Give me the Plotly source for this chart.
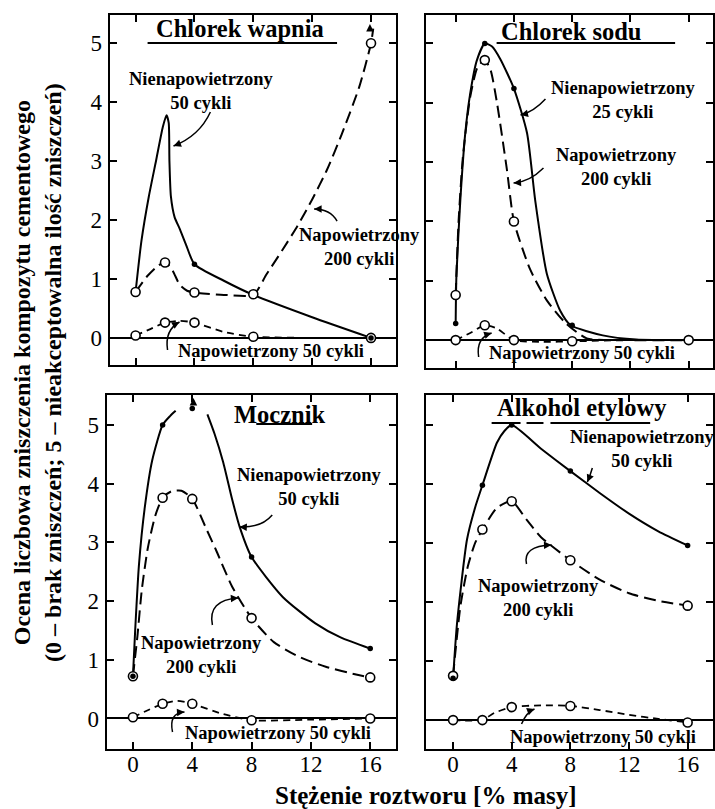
import math
import plotly.graph_objects as go

W, H = 715, 809
FONT = "Liberation Serif, Times New Roman, Times, serif"

# ---------------- data ----------------
x_ticks = [0, 4, 8, 12, 16]
y_ticks = [0, 1, 2, 3, 4, 5]

# Chlorek wapnia
wap_nien50_cx = [0, 0.4, 0.9, 1.4, 1.85, 2.1, 2.25, 2.3, 2.4, 2.65, 3.0, 3.43, 4, 6, 8, 12, 16]
wap_nien50_cy = [0.78, 1.65, 2.4, 3.02, 3.58, 3.78, 3.65, 3.0, 2.4, 2.05, 1.85, 1.58, 1.25, 0.97, 0.73, 0.35, 0.0]
wap_nien50_px = [4, 16]
wap_nien50_py = [1.25, 0.0]

wap_nap200_cx = [0, 0.8, 1.5, 2, 2.5, 3, 3.5, 4, 6, 8, 8.9, 10, 11, 12, 13, 14, 15.2, 16, 16.15]
wap_nap200_cy = [0.78, 1.05, 1.22, 1.28, 1.15, 0.9, 0.8, 0.77, 0.73, 0.73, 1.08, 1.5, 1.9, 2.35, 2.85, 3.45, 4.26, 5.0, 5.25]
wap_nap200_px = [0, 2, 4, 8, 16]
wap_nap200_py = [0.78, 1.28, 0.77, 0.74, 5.0]

wap_nap50_cx = [0, 1, 2, 3, 4, 6, 8, 12, 16]
wap_nap50_cy = [0.04, 0.15, 0.26, 0.29, 0.26, 0.1, 0.02, 0.0, 0.0]
wap_nap50_px = [0, 2, 4, 8, 16]
wap_nap50_py = [0.04, 0.26, 0.26, 0.02, 0.0]

# Chlorek sodu
sod_nien25_cx = [0, 0.05, 0.32, 0.66, 1.0, 1.46, 2, 2.5, 3.06, 4, 4.9, 5.46, 6.26, 7.17, 7.9, 10.1, 12.4, 16]
sod_nien25_cy = [0.28, 1.07, 2.36, 3.49, 4.16, 4.72, 5.0, 4.95, 4.74, 4.24, 3.49, 2.36, 1.12, 0.5, 0.25, 0.08, 0.01, 0.0]
sod_nien25_px = [0, 2, 4, 8]
sod_nien25_py = [0.28, 5.0, 4.24, 0.25]

sod_nap200_cx = [0, 0.2, 0.5, 1.0, 1.5, 2, 2.4, 2.83, 3.51, 4, 5.1, 6.26, 7.5, 9.0, 12, 16]
sod_nap200_cy = [0.76, 2.0, 3.1, 4.1, 4.6, 4.72, 4.55, 4.01, 2.89, 2.0, 1.2, 0.67, 0.3, 0.03, 0.0, 0.0]
sod_nap200_px = [0, 2, 4]
sod_nap200_py = [0.76, 4.72, 2.0]

sod_nap50_cx = [0, 1, 2, 2.8, 4, 6, 8, 12, 16]
sod_nap50_cy = [0.0, 0.12, 0.25, 0.2, 0.0, -0.03, -0.02, 0.0, 0.0]
sod_nap50_px = [0, 2, 4, 8, 16]
sod_nap50_py = [0.0, 0.25, 0.0, -0.02, 0.0]

# Mocznik
moc_nien50_cx = [0, 0.15, 0.4, 0.8, 1.3, 2, 2.5, 2.88, None, 5.02, 5.5, 6.08, 6.7, 7.2, 8, 10.1, 12.3, 14, 16]
moc_nien50_cy = [0.72, 1.5, 2.6, 3.6, 4.4, 5.0, 5.15, 5.24, None, 5.18, 4.85, 4.37, 3.72, 3.26, 2.75, 2.07, 1.62, 1.38, 1.19]
moc_nien50_px = [0, 2, 4, 8, 16]
moc_nien50_py = [0.72, 5.0, 5.28, 2.75, 1.19]

moc_nap200_cx = [0, 0.3, 0.6, 1.0, 1.5, 2, 2.6, 3.27, 4, 5.0, 5.6, 6.7, 8, 9.5, 11.2, 13, 15.2, 16]
moc_nap200_cy = [0.72, 1.4, 2.2, 2.9, 3.45, 3.76, 3.87, 3.88, 3.74, 3.2, 2.87, 2.24, 1.71, 1.3, 1.05, 0.88, 0.74, 0.7]
moc_nap200_px = [0, 2, 4, 8, 16]
moc_nap200_py = [0.72, 3.76, 3.74, 1.71, 0.7]

moc_nap50_cx = [0, 1, 2, 3, 4, 6, 8, 12, 16]
moc_nap50_cy = [0.02, 0.14, 0.25, 0.3, 0.25, 0.08, -0.03, -0.02, 0.0]
moc_nap50_px = [0, 2, 4, 8, 16]
moc_nap50_py = [0.02, 0.25, 0.25, -0.03, 0.0]

# Alkohol etylowy
alk_nien50_cx = [0, 0.27, 0.95, 1.5, 2, 2.99, 3.5, 4, 6, 8, 10, 12, 14, 16]
alk_nien50_cy = [0.71, 1.64, 3.06, 3.6, 3.98, 4.7, 4.9, 5.0, 4.6, 4.22, 3.85, 3.5, 3.2, 2.96]
alk_nien50_px = [0, 2, 4, 8, 16]
alk_nien50_py = [0.71, 3.98, 5.0, 4.22, 2.96]

alk_nap200_cx = [0, 0.5, 1.0, 1.5, 2, 3.0, 4, 5, 6, 8, 10, 12, 14, 16]
alk_nap200_cy = [0.75, 1.93, 2.6, 3.0, 3.23, 3.6, 3.71, 3.4, 3.1, 2.71, 2.38, 2.15, 2.02, 1.94]
alk_nap200_px = [0, 2, 4, 8, 16]
alk_nap200_py = [0.75, 3.23, 3.71, 2.71, 1.94]

alk_nap50_cx = [0, 2, 2.8, 4, 6, 8, 10, 12, 14, 16]
alk_nap50_cy = [0.0, 0.0, 0.12, 0.22, 0.25, 0.24, 0.17, 0.09, 0.02, -0.04]
alk_nap50_px = [0, 2, 4, 8, 16]
alk_nap50_py = [0.0, 0.0, 0.22, 0.24, -0.04]

titles = ["Chlorek wapnia", "Chlorek sodu", "Mocznik", "Alkohol etylowy"]
y_title = ("Ocena liczbowa zniszczenia kompozytu cementowego<br>"
           "(0 – brak zniszczeń; 5 – nieakceptowalna ilość zniszczeń)")
x_title = "Stężenie roztworu [% masy]"

# ---------------- layout helpers ----------------
def px(x, y):
    return x / W, 1 - y / H

panels = [
    ("x", "y", (110, 397), (15, 365), (-1.76, 17.69), (-0.46, 5.48), False, True),
    ("x2", "y2", (427, 715), (15, 368), (-2.05, 17.67), (-0.47, 5.48), False, False),
    ("x3", "y3", (107, 397), (395, 749), (-1.77, 17.73), (-0.52, 5.51), True, True),
    ("x4", "y4", (427, 715), (395, 749), (-1.86, 17.73), (-0.49, 5.51), True, False),
]

fig = go.Figure()

SOLID = dict(color="black", width=2.0)
DASH200 = dict(color="black", width=2.0, dash="12px,6px")
DASH50 = dict(color="black", width=1.8, dash="7px,5px")
OPEN = dict(symbol="circle", size=9, color="white", line=dict(color="black", width=1.6))
DOT = dict(symbol="circle", size=5.5, color="black", line=dict(color="black", width=0))

series = [
    (0, wap_nap50_cx, wap_nap50_cy, wap_nap50_px, wap_nap50_py, DASH50, OPEN),
    (0, wap_nap200_cx, wap_nap200_cy, wap_nap200_px, wap_nap200_py, DASH200, OPEN),
    (0, wap_nien50_cx, wap_nien50_cy, wap_nien50_px, wap_nien50_py, SOLID, DOT),
    (1, sod_nap50_cx, sod_nap50_cy, sod_nap50_px, sod_nap50_py, DASH50, OPEN),
    (1, sod_nap200_cx, sod_nap200_cy, sod_nap200_px, sod_nap200_py, DASH200, OPEN),
    (1, sod_nien25_cx, sod_nien25_cy, sod_nien25_px, sod_nien25_py, SOLID, DOT),
    (2, moc_nap50_cx, moc_nap50_cy, moc_nap50_px, moc_nap50_py, DASH50, OPEN),
    (2, moc_nap200_cx, moc_nap200_cy, moc_nap200_px, moc_nap200_py, DASH200, OPEN),
    (2, moc_nien50_cx, moc_nien50_cy, moc_nien50_px, moc_nien50_py, SOLID, DOT),
    (3, alk_nap50_cx, alk_nap50_cy, alk_nap50_px, alk_nap50_py, DASH50, OPEN),
    (3, alk_nap200_cx, alk_nap200_cy, alk_nap200_px, alk_nap200_py, DASH200, OPEN),
    (3, alk_nien50_cx, alk_nien50_cy, alk_nien50_px, alk_nien50_py, SOLID, DOT),
]

for pi, cx, cy, mx, my, ln, mk in series:
    xa, ya = panels[pi][0], panels[pi][1]
    fig.add_trace(go.Scatter(x=cx, y=cy, mode="lines", line=dict(shape="spline", smoothing=0.6, **ln),
                             xaxis=xa, yaxis=ya, showlegend=False, hoverinfo="skip", connectgaps=False))
for pi, cx, cy, mx, my, ln, mk in series:
    xa, ya = panels[pi][0], panels[pi][1]
    fig.add_trace(go.Scatter(x=mx, y=my, mode="markers", marker=mk, xaxis=xa, yaxis=ya,
                             showlegend=False, hoverinfo="skip", cliponaxis=False))

layout = dict(
    width=W, height=H, margin=dict(l=0, r=0, t=0, b=0),
    paper_bgcolor="white", plot_bgcolor="white", showlegend=False,
    font=dict(family=FONT, color="black"),
)
for xa, ya, (x0, x1), (y0, y1), xr, yr, sxl, syl in panels:
    xk = "xaxis" + xa[1:]
    yk = "yaxis" + ya[1:]
    layout[xk] = dict(
        domain=[x0 / W, min(x1 / W, 1.0)], range=list(xr), anchor=ya,
        tickvals=x_ticks, ticks="inside", ticklen=7, tickwidth=1.5, tickcolor="black",
        showline=True, linewidth=2, linecolor="black", mirror="ticks",
        showgrid=False, zeroline=False, showticklabels=sxl,
        tickfont=dict(family=FONT, size=23, color="black"), ticklabelstandoff=-7,
    )
    layout[yk] = dict(
        domain=[1 - y1 / H, 1 - y0 / H], range=list(yr), anchor=xa,
        tickvals=y_ticks, ticks="inside", ticklen=7, tickwidth=1.5, tickcolor="black",
        showline=True, linewidth=2, linecolor="black", mirror="ticks",
        showgrid=False, zeroline=True, zerolinecolor="black", zerolinewidth=1.6,
        showticklabels=syl, tickfont=dict(family=FONT, size=23, color="black"),
        ticklabelstandoff=1,
    )
fig.update_layout(**layout)

ann = []
shapes = []

def text(xp, yp, s, size=18.5, bold=True, align="center"):
    X, Y = px(xp, yp)
    ann.append(dict(x=X, y=Y, xref="paper", yref="paper", text=("<b>%s</b>" % s) if bold else s,
                    showarrow=False, xanchor="center", yanchor="middle", align=align,
                    font=dict(family=FONT, size=size, color="black")))

def head(tip, frm, length=7):
    dx, dy = frm[0] - tip[0], frm[1] - tip[1]
    d = math.hypot(dx, dy) or 1.0
    X, Y = px(*tip)
    ann.append(dict(x=X, y=Y, xref="paper", yref="paper", text="", showarrow=True,
                    ax=dx / d * length, ay=dy / d * length, axref="pixel", ayref="pixel",
                    arrowhead=2, arrowsize=1.0, arrowwidth=1.5, arrowcolor="black", standoff=0))

def curved_arrow(tail, ctrl, tip):
    a = px(*tail)
    c = px(*ctrl)
    b = px(*tip)
    shapes.append(dict(type="path", xref="paper", yref="paper",
                       path="M %.5f,%.5f Q %.5f,%.5f %.5f,%.5f" % (a[0], a[1], c[0], c[1], b[0], b[1]),
                       line=dict(color="black", width=1.5)))
    head(tip, ctrl)

def hline(x0, x1, y, width=2, dash="solid"):
    a0, b0 = px(x0, y)
    a1, b1 = px(x1, y)
    shapes.append(dict(type="line", xref="paper", yref="paper", x0=a0, x1=a1, y0=b0, y1=b1,
                       line=dict(color="black", width=width, dash=dash)))

# panel titles
text(241, 29, titles[0], size=24.5)
hline(148, 338, 43)
text(573, 32, titles[1], size=24.5)
hline(498, 677, 43)
text(281, 414, titles[2], size=24.5)
hline(257, 313, 424)
text(584, 408, titles[3], size=24.5)
hline(493, 522, 423)
hline(528, 545, 423)
hline(552, 652, 423)

# series labels with curved arrows
text(202, 91, "Nienapowietrzony<br>50 cykli")
curved_arrow((211, 112), (200, 136), (174, 146))
text(361, 247, "Napowietrzony<br>200 cykli")
curved_arrow((338, 221), (331, 209), (315, 209))
text(272, 351, "Napowietrzony 50 cykli")
curved_arrow((168, 350), (165, 330), (180, 322))

text(625, 100, "Nienapowietrzony<br>25 cykli")
curved_arrow((547, 99), (535, 112), (522, 115))
text(618, 167, "Napowietrzony<br>200 cykli")
curved_arrow((545, 168), (531, 182), (515, 183))
text(584, 353, "Napowietrzony 50 cykli")
curved_arrow((480, 357), (477, 338), (493, 333))

text(310, 487, "Nienapowietrzony<br>50 cykli")
curved_arrow((273, 515), (262, 528), (240, 527))
text(202, 655, "Napowietrzony<br>200 cykli")
curved_arrow((213, 625), (208, 600), (239, 598))
text(279, 733, "Napowietrzony 50 cykli")
curved_arrow((173, 732), (169, 713), (185, 712))

text(644, 449, "Nienapowietrzony<br>50 cykli")
curved_arrow((594, 468), (592, 475), (589, 482))
text(540, 598, "Napowietrzony<br>200 cykli")
curved_arrow((528, 564), (524, 546), (553, 545))
text(605, 737, "Napowietrzony 50 cykli")
curved_arrow((523, 724), (528, 712), (536, 709))

# small upward arrowheads at curve ends that leave the chart
head((371, 24), (371, 40))
head((194, 398), (194, 408), length=6)

# axis titles
X, Y = px(37, 372)
ann.append(dict(x=X, y=Y, xref="paper", yref="paper", text="<b>%s</b>" % y_title, textangle=-90,
                showarrow=False, xanchor="center", yanchor="middle",
                font=dict(family=FONT, size=24, color="black")))
text(427, 795, x_title, size=25)

fig.update_layout(annotations=ann, shapes=shapes)
fig.write_html("out.html")
